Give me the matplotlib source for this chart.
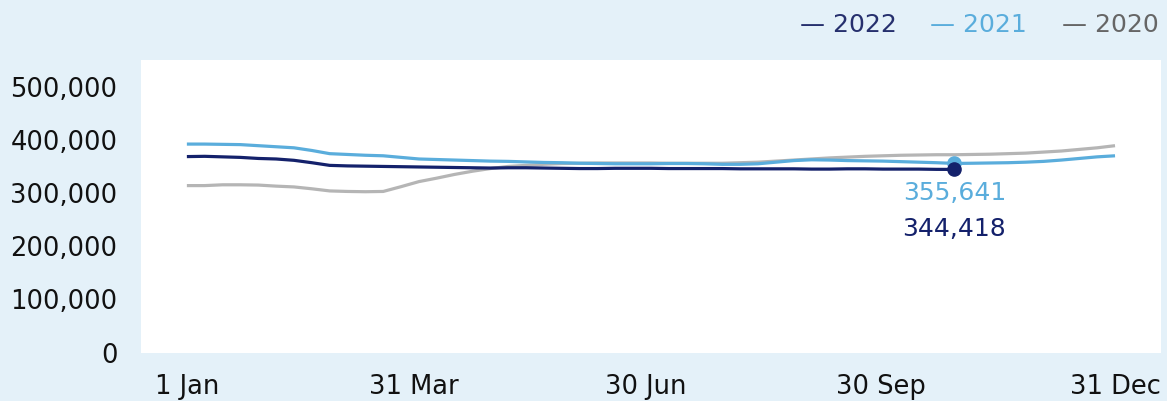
import numpy as np
import matplotlib
matplotlib.use("Agg")
import matplotlib.pyplot as plt
from matplotlib.ticker import FuncFormatter

# weekly values (thousands), week 0 = 1 Jan
v2021 = [392, 392, 391.5, 391, 389, 387, 385, 380, 374, 372.5, 371, 370, 367,
         364, 363, 362, 361, 360, 359.5, 358.5, 357.5, 357, 356, 355.5, 355, 355,
         355, 355.5, 355.5, 355, 354, 354, 355, 358, 361, 362.5, 362, 361, 360.5,
         360, 359, 358, 357, 355.641, 356, 356.5, 357, 358, 359.5, 362, 365, 368, 370]
v2022 = [368.5, 369, 368, 367, 365, 364, 361.5, 357, 352, 351, 350.5, 350, 349.5,
         349, 348.5, 348, 347.5, 347, 347.5, 347.5, 347, 346.5, 346, 346, 346.5,
         346.5, 346.5, 346, 346, 346, 346, 345.5, 345.5, 345.5, 345.5, 345, 345,
         345.5, 345.5, 345, 345, 345, 344.5, 344.418]
v2020 = [314, 314, 315.5, 315.5, 315, 313, 311.5, 308, 304, 303, 302.5, 303, 312,
         321.5, 328, 335, 341, 346, 350, 352, 354, 355.5, 356, 356.5, 356.5, 356.5,
         356.5, 356, 356, 356, 356, 357, 358, 360, 362, 364, 366, 367.5, 369, 370,
         371, 371.5, 372, 372, 372.5, 373, 374, 375, 377, 379, 382, 385, 389]

tick_days = [0, 89, 180, 272, 364]
tick_labels = ["1 Jan", "31 Mar", "30 Jun", "30 Sep", "31 Dec"]

c2022 = "#14216b"
c2021 = "#5aaddc"
c2020 = "#b5b5b5"
bg = "#e4f1f9"

fig = plt.figure(figsize=(11.67, 4.01), dpi=100, facecolor=bg)
ax = fig.add_axes([0.1208, 0.1204, 0.874, 0.73])
ax.set_facecolor("white")

d21 = np.arange(len(v2021)) * 7
d22 = np.arange(len(v2022)) * 7
d20 = np.arange(len(v2020)) * 7

ax.plot(d20, np.array(v2020) * 1000, color=c2020, lw=2.3, solid_capstyle="butt")
ax.plot(d21, np.array(v2021) * 1000, color=c2021, lw=2.3, solid_capstyle="butt")
ax.plot(d22, np.array(v2022) * 1000, color=c2022, lw=2.3, solid_capstyle="butt")

# end markers for the current week
x_last = d22[-1]
y21 = v2021[len(v2022) - 1] * 1000
y22 = v2022[-1] * 1000
ax.plot([x_last], [y21], "o", color=c2021, ms=9.5, zorder=4)
ax.plot([x_last], [y22], "o", color=c2022, ms=9.5, zorder=5)
ax.annotate(f"{y21:,.0f}", (x_last, y21), xytext=(0, -30), textcoords="offset pixels",
            ha="center", va="center", color=c2021, fontsize=18)
ax.annotate(f"{y22:,.0f}", (x_last, y22), xytext=(0, -60), textcoords="offset pixels",
            ha="center", va="center", color=c2022, fontsize=18)

ax.set_xlim(-18, 382)
ax.set_ylim(0, 550000)
ax.set_yticks(range(0, 500001, 100000))
ax.yaxis.set_major_formatter(FuncFormatter(lambda v, p: f"{v:,.0f}"))
ax.set_xticks(tick_days)
ax.set_xticklabels(tick_labels)
ax.tick_params(length=0, labelsize=18.5, labelcolor="#111111")
ax.tick_params(axis="y", pad=17)
ax.tick_params(axis="x", pad=15)
for s in ax.spines.values():
    s.set_visible(False)

# legend as coloured text
fig.text(800 / 1167, 1 - 25 / 401, "— 2022", color="#26306e", fontsize=18, va="center")
fig.text(930 / 1167, 1 - 25 / 401, "— 2021", color=c2021, fontsize=18, va="center")
fig.text(1062 / 1167, 1 - 25 / 401, "— 2020", color="#666666", fontsize=18, va="center")

fig.savefig("out.png", dpi=100, facecolor=bg)
